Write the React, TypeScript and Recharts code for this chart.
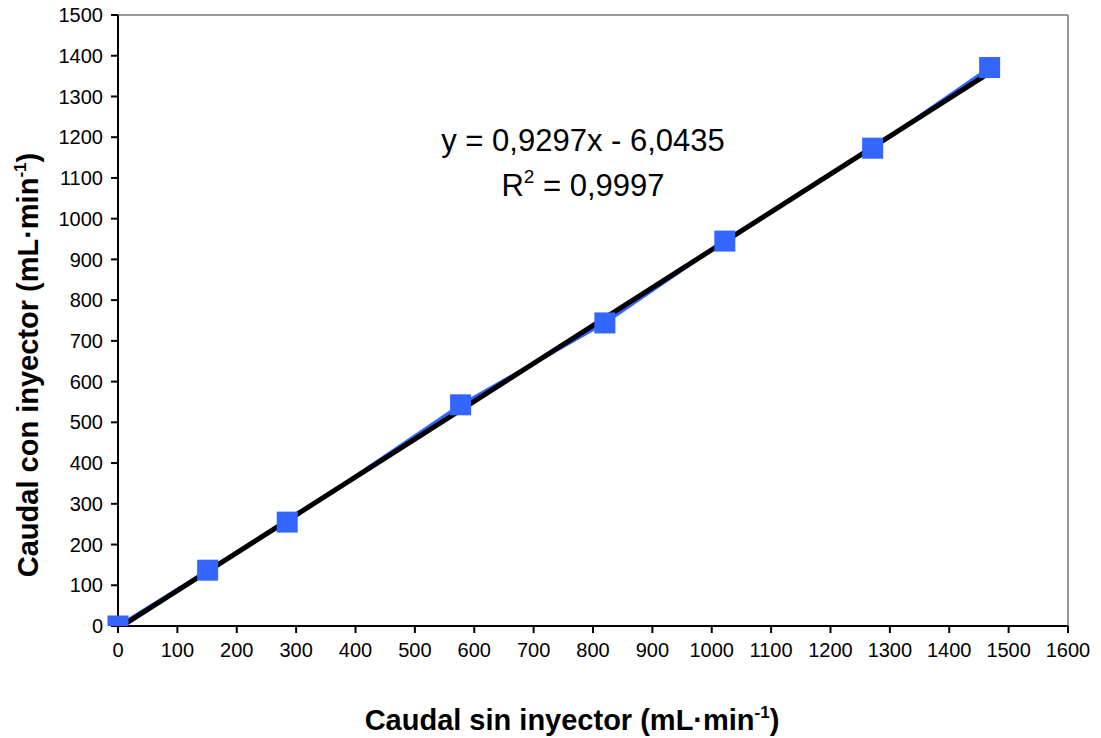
import { ComposedChart, Line, ReferenceLine, XAxis, YAxis } from "recharts";

// caudal sin inyector (x) vs caudal con inyector (y), mL/min
const caudalSin = [0, 151, 285, 577, 820, 1022, 1271, 1468];
const caudalCon = [0, 137, 255, 543, 744, 945, 1173, 1371];

const xTicks = [0, 100, 200, 300, 400, 500, 600, 700, 800, 900, 1000, 1100, 1200, 1300, 1400, 1500, 1600];
const yTicks = [0, 100, 200, 300, 400, 500, 600, 700, 800, 900, 1000, 1100, 1200, 1300, 1400, 1500];

// linear fit shown on the chart
const slope = 0.9297;
const intercept = -6.0435;
const fitRange = [0, 1468];

const points = caudalSin.map((x, i) => ({ x, y: caudalCon[i] }));
const fitLine = fitRange.map((x) => ({ x, y: slope * x + intercept }));

const BLUE = "#3366FF";
const FONT = "'Liberation Sans', Arial, sans-serif";

function SquareDot(props: any) {
  const { cx, cy, index } = props;
  if (cx == null || cy == null) return null;
  return <rect key={`sq-${index}`} x={cx - 10.5} y={cy - 10.5} width={21} height={21} fill={BLUE} />;
}

export default function App() {
  return (
    <div style={{ position: "absolute", left: 0, top: 0, background: "#fff" }}>
      <ComposedChart width={1101} height={738} margin={{ top: 15, right: 33, left: 0, bottom: 0 }}>
        <XAxis
          dataKey="x"
          type="number"
          domain={[0, 1600]}
          ticks={xTicks}
          interval={0}
          height={112}
          tickSize={7}
          tickMargin={10}
          axisLine={{ stroke: "#000", strokeWidth: 2 }}
          tickLine={{ stroke: "#000", strokeWidth: 2 }}
          tick={{ fill: "#000", fontSize: 20, fontFamily: FONT }}
        />
        <YAxis
          dataKey="y"
          type="number"
          domain={[0, 1500]}
          allowDataOverflow
          ticks={yTicks}
          interval={0}
          width={118}
          tickSize={7}
          tickMargin={8}
          axisLine={{ stroke: "#000", strokeWidth: 2 }}
          tickLine={{ stroke: "#000", strokeWidth: 2 }}
          tick={{ fill: "#000", fontSize: 20, fontFamily: FONT }}
        />
        <ReferenceLine y={1500} stroke="#999" strokeWidth={2} />
        <ReferenceLine x={1600} stroke="#999" strokeWidth={2} />
        <Line
          data={points}
          dataKey="y"
          type="linear"
          stroke={BLUE}
          strokeWidth={3}
          dot={<SquareDot />}
          activeDot={false}
          isAnimationActive={false}
        />
        <Line
          data={fitLine}
          dataKey="y"
          type="linear"
          stroke="#000"
          strokeWidth={5}
          dot={false}
          activeDot={false}
          isAnimationActive={false}
        />
        <text x={583} y={151} textAnchor="middle" fontSize={31} fontFamily={FONT} fill="#000">
          y = 0,9297x - 6,0435
        </text>
        <text x={583} y={196} textAnchor="middle" fontSize={31} fontFamily={FONT} fill="#000">
          R<tspan fontSize={19} dy={-13}>2</tspan>
          <tspan dy={13}> = 0,9997</tspan>
        </text>
        <text x={572} y={730} textAnchor="middle" fontSize={29} fontWeight="bold" fontFamily={FONT} fill="#000">
          Caudal sin inyector (mL·min<tspan fontSize={17} dy={-12}>-1</tspan>
          <tspan dy={12}>)</tspan>
        </text>
        <text
          x={0}
          y={0}
          transform="translate(38 365) rotate(-90)"
          textAnchor="middle"
          fontSize={29}
          fontWeight="bold"
          fontFamily={FONT}
          fill="#000"
        >
          Caudal con inyector (mL·min<tspan fontSize={17} dy={-12}>-1</tspan>
          <tspan dy={12}>)</tspan>
        </text>
      </ComposedChart>
    </div>
  );
}
